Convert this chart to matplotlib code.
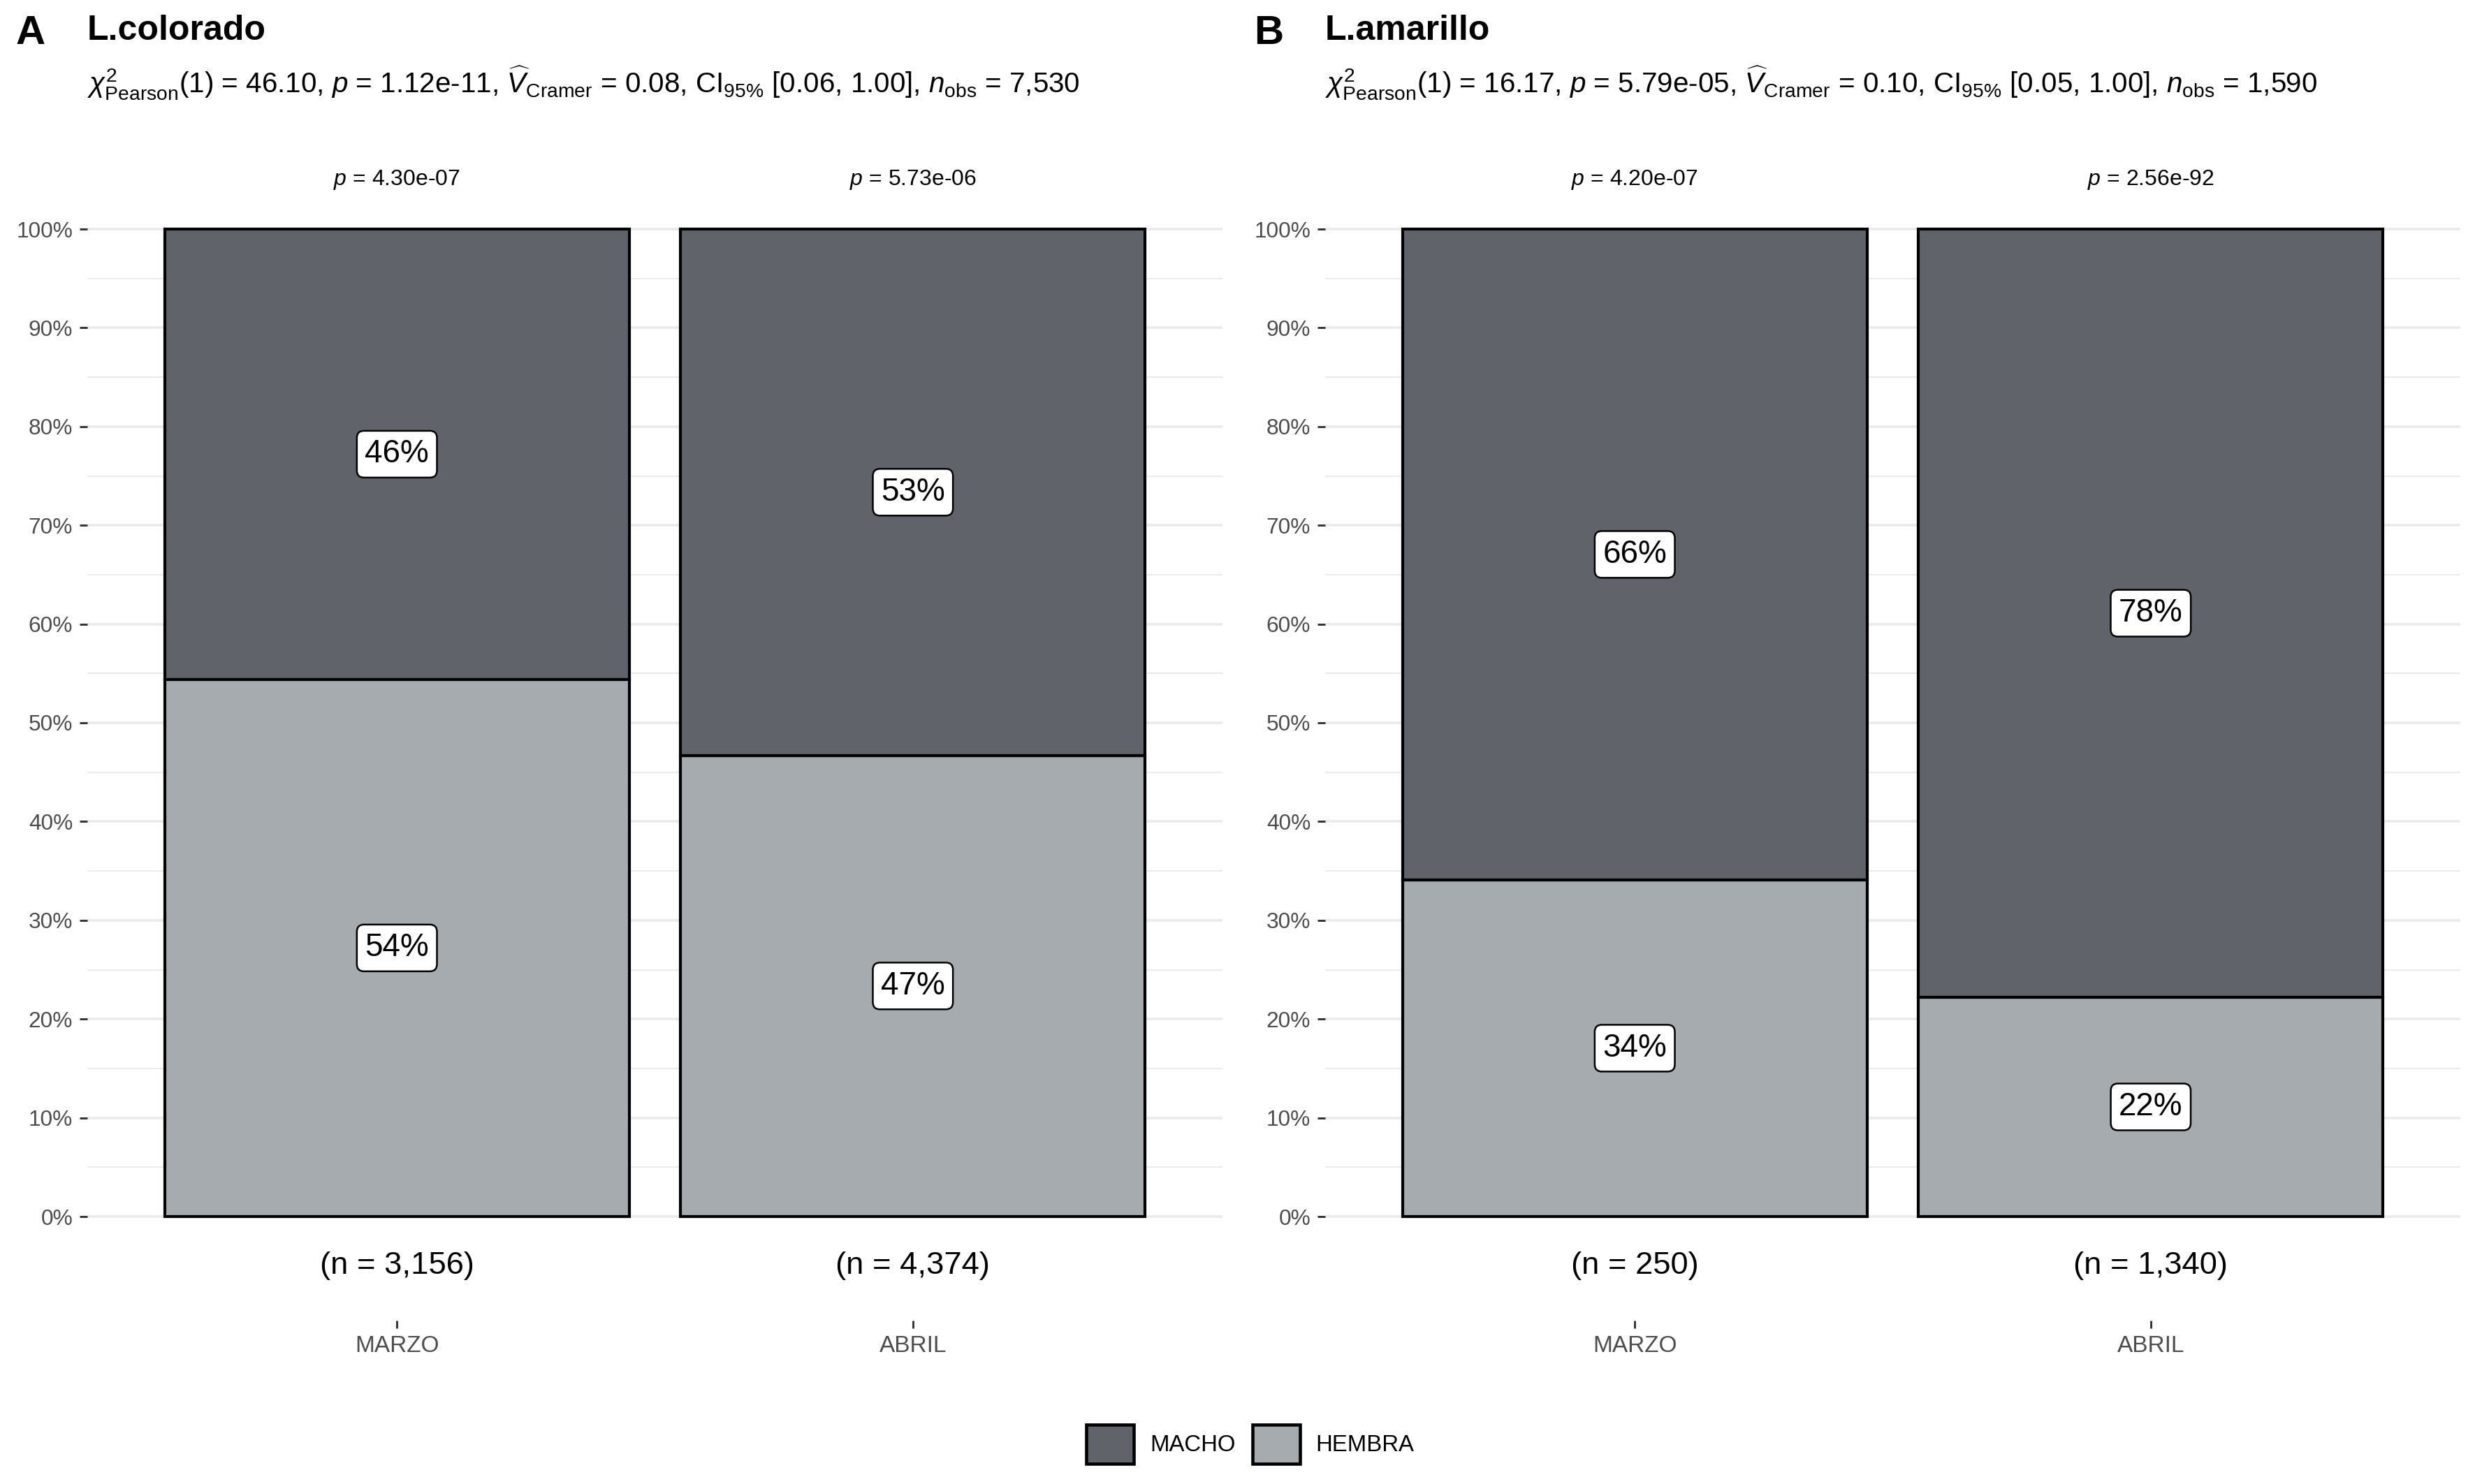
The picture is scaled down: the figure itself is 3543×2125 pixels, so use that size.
import matplotlib
matplotlib.use('Agg')
import matplotlib.pyplot as plt
from matplotlib.patches import Patch
import numpy as np

plt.rcParams['font.family'] = ['Liberation Sans', 'DejaVu Sans']
plt.rcParams['mathtext.fontset'] = 'custom'
plt.rcParams['mathtext.rm'] = 'Liberation Sans'
plt.rcParams['mathtext.it'] = 'Liberation Sans:italic'
plt.rcParams['mathtext.bf'] = 'Liberation Sans:bold'

# ---------------- data ----------------
months = ['MARZO', 'ABRIL']
sexes = ['MACHO', 'HEMBRA']

colorado_macho = [0.456, 0.533]
colorado_hembra = [0.544, 0.467]
colorado_n = [3156, 4374]
colorado_p = ['4.30e-07', '5.73e-06']

amarillo_macho = [0.659, 0.778]
amarillo_hembra = [0.341, 0.222]
amarillo_n = [250, 1340]
amarillo_p = ['4.20e-07', '2.56e-92']

panel_letters = ['A', 'B']
panel_titles = ['L.colorado', 'L.amarillo']
chi2_vals = ['46.10', '16.17']
chi2_p = ['1.12e-11', '5.79e-05']
cramer_v = ['0.08', '0.10']
cramer_ci = [('0.06', '1.00'), ('0.05', '1.00')]
n_obs = ['7,530', '1,590']

y_ticks = [0.0, 0.1, 0.2, 0.3, 0.4, 0.5, 0.6, 0.7, 0.8, 0.9, 1.0]
y_ticklabels = ['0%', '10%', '20%', '30%', '40%', '50%', '60%', '70%', '80%', '90%', '100%']

# ---------------- style ----------------
DARK = '#60636A'
LIGHT = '#A5ABAE'
GRID = '#EBEBEB'
W, H = 3543, 2125

fig = plt.figure(figsize=(W / 300, H / 300), dpi=300)

panel_lefts = [125, 1897]
panel_width = 1625
ax_top_px, ax_bot_px = 200, 1891
y0_px, y100_px = 1742, 328
ymin = (y0_px - ax_bot_px) / (y0_px - y100_px)
ymax = (y0_px - ax_top_px) / (y0_px - y100_px)

datasets = [
    (colorado_macho, colorado_hembra, colorado_n, colorado_p),
    (amarillo_macho, amarillo_hembra, amarillo_n, amarillo_p),
]

for i, (macho, hembra, ns, ps) in enumerate(datasets):
    left = panel_lefts[i]
    ax = fig.add_axes([left / W, 1 - ax_bot_px / H, panel_width / W, (ax_bot_px - ax_top_px) / H])
    x = np.arange(1, len(months) + 1)
    ax.bar(x, hembra, width=0.9, color=LIGHT, edgecolor='black', linewidth=1.0, zorder=2)
    ax.bar(x, macho, width=0.9, bottom=hembra, color=DARK, edgecolor='black', linewidth=1.0, zorder=2)

    for xi, h, m, n, p in zip(x, hembra, macho, ns, ps):
        for val, mid in ((h, h / 2), (m, h + m / 2)):
            ax.text(xi, mid, f"{val * 100:.0f}%", ha='center', va='center', fontsize=11, zorder=5,
                    bbox=dict(boxstyle='round,pad=0.25,rounding_size=0.22', fc='white', ec='black', lw=0.6))
        ax.text(xi, -0.05, f"(n = {n:,})", ha='center', va='center', fontsize=10.9)
        ax.text(xi, 1.05, f"$p$ = {p}", ha='center', va='center', fontsize=7.7)

    ax.set_xlim(0.4, 2.6)
    ax.set_ylim(ymin, ymax)
    ax.set_yticks(y_ticks)
    ax.set_yticklabels(y_ticklabels)
    ax.set_yticks(np.array(y_ticks[:-1]) + 0.05, minor=True)
    ax.set_xticks(x)
    ax.set_xticklabels(months)
    for s in ax.spines.values():
        s.set_visible(False)
    ax.grid(False)
    ax.set_axisbelow(True)
    for yv in y_ticks:
        ax.axhline(yv, color=GRID, lw=0.9, zorder=0)
    for yv in np.array(y_ticks[:-1]) + 0.05:
        ax.axhline(yv, color=GRID, lw=0.5, zorder=0)
    ax.tick_params(axis='y', which='major', length=2.6, width=0.7, color='#333333',
                   labelcolor='#4D4D4D', labelsize=7.6, pad=2.4)
    ax.tick_params(axis='x', which='major', length=2.6, width=0.7, color='#333333',
                   labelcolor='#4D4D4D', labelsize=8.0, pad=2.4)
    ax.tick_params(axis='y', which='minor', length=0)

    # titles
    fig.text((left - 102) / W, 1 - 63 / H, panel_letters[i], fontsize=14, fontweight='bold', va='baseline', ha='left')
    fig.text(left / W, 1 - 57 / H, panel_titles[i], fontsize=12, fontweight='bold', va='baseline', ha='left')
    sub = (r"$\chi^2_{\mathrm{Pearson}}$(1) = " + chi2_vals[i] + ", $p$ = " + chi2_p[i] +
           r", $\widehat{V}_{\mathrm{Cramer}}$ = " + cramer_v[i] +
           r", CI$_{95\%}$ [" + cramer_ci[i][0] + ", " + cramer_ci[i][1] + "], $n_{\mathrm{obs}}$ = " + n_obs[i])
    fig.text(left / W, 1 - 133 / H, sub, fontsize=9.7, va='baseline', ha='left')

handles = [Patch(facecolor=DARK, edgecolor='black', linewidth=1.1, label=sexes[0]),
           Patch(facecolor=LIGHT, edgecolor='black', linewidth=1.1, label=sexes[1])]
fig.legend(handles=handles, loc='center', bbox_to_anchor=(1790 / W, 1 - 2068 / H), ncol=2, frameon=False,
           fontsize=7.9, handlelength=2.05, handleheight=2.2, handletextpad=0.7, columnspacing=0.75)

fig.savefig('out.png', dpi=300)
